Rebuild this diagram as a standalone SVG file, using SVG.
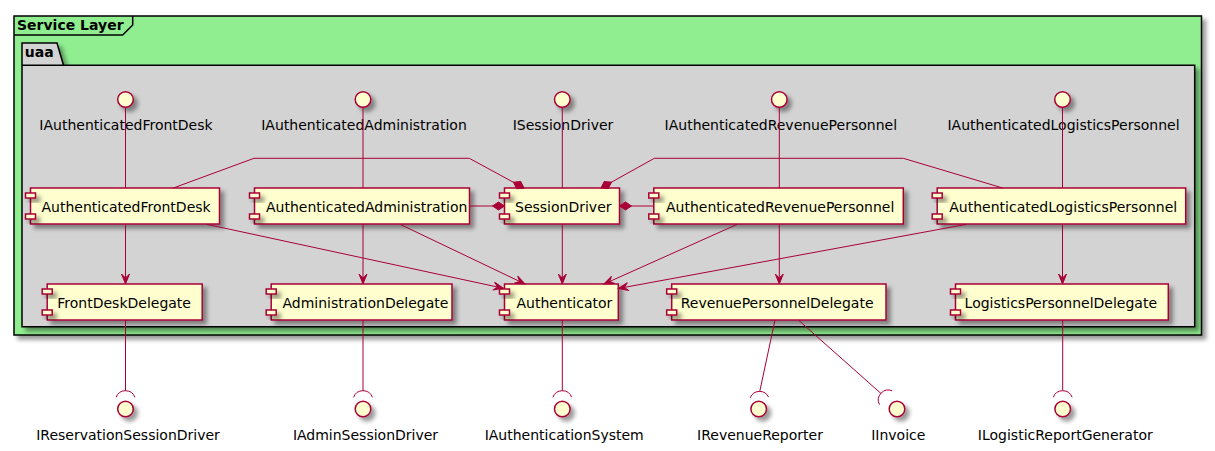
<svg xmlns="http://www.w3.org/2000/svg" width="1215" height="451" viewBox="0 0 1215 451">
<defs>
<filter id="sh" x="-1" y="-1" width="300%" height="300%">
<feGaussianBlur in="SourceAlpha" result="b" stdDeviation="2"/>
<feColorMatrix in="b" result="b2" type="matrix" values="0 0 0 0 0 0 0 0 0 0 0 0 0 0 0 0 0 0 .4 0"/>
<feOffset in="b2" result="b3" dx="4" dy="4"/>
<feBlend in="SourceGraphic" in2="b3" mode="normal"/>
</filter>
<marker id="arr" viewBox="-11 -5 12 10" refX="0" refY="0" markerWidth="12" markerHeight="10" orient="auto" markerUnits="userSpaceOnUse">
<path d="M0,0 L-10,-4 L-6,0 L-10,4 Z" fill="#A80036" stroke="#A80036" stroke-width="1"/>
</marker>
<marker id="dia" viewBox="-13 -5 14 10" refX="0" refY="0" markerWidth="14" markerHeight="10" orient="auto" markerUnits="userSpaceOnUse">
<path d="M0,0 L-6,-4 L-12,0 L-6,4 Z" fill="#A80036" stroke="#A80036" stroke-width="1"/>
</marker>
</defs>
<style>
text{font-family:"DejaVu Sans","Liberation Sans",sans-serif;font-size:14px;fill:#000}
.b{font-weight:bold}
.m{text-anchor:middle}
.box{fill:#FEFECE;stroke:#A80036;stroke-width:1.5;filter:url(#sh)}
.ifc{fill:#FEFECE;stroke:#A80036;stroke-width:1.5;filter:url(#sh)}
.cl{stroke:#000;stroke-width:1.5}
.c{fill:none;stroke:#A80036;stroke-width:1}
.a{marker-end:url(#arr)}
.d{marker-end:url(#dia)}
</style>
<g id="ServiceLayer">
<rect class="cl" x="14" y="16" width="1187.5" height="319" fill="#90EE90" filter="url(#sh)"/>
<path class="cl" d="M14,35 L122.7,35 L132.7,25 L132.7,16" fill="none"/>
<text class="b" x="17" y="30">Service Layer</text>
</g>
<g id="uaa">
<polygon class="cl" points="22,43 57,43 63.5,65.3 1194.7,65.3 1194.7,326.7 22,326.7" fill="#D3D3D3" filter="url(#sh)"/>
<line class="cl" x1="22" y1="65.3" x2="63.5" y2="65.3"/>
<text class="b" x="24.8" y="57.3">uaa</text>
</g>
<g id="IAuthenticatedFrontDesk"><circle class="ifc" cx="125.5" cy="99.5" r="7.8"/><text class="m" x="126" y="129.5">IAuthenticatedFrontDesk</text></g>
<g id="IAuthenticatedAdministration"><circle class="ifc" cx="363" cy="99.5" r="7.8"/><text class="m" x="364" y="129.5">IAuthenticatedAdministration</text></g>
<g id="ISessionDriver"><circle class="ifc" cx="562.3" cy="99.5" r="7.8"/><text class="m" x="563" y="129.5">ISessionDriver</text></g>
<g id="IAuthenticatedRevenuePersonnel"><circle class="ifc" cx="779.3" cy="99.5" r="7.8"/><text class="m" x="780.8" y="129.5">IAuthenticatedRevenuePersonnel</text></g>
<g id="IAuthenticatedLogisticsPersonnel"><circle class="ifc" cx="1062.5" cy="99.5" r="7.8"/><text class="m" x="1063.5" y="129.5">IAuthenticatedLogisticsPersonnel</text></g>
<g id="AuthenticatedFrontDesk"><rect class="box" x="30.5" y="188" width="189" height="36"/><rect class="box" x="25.5" y="193" width="10" height="5"/><rect class="box" x="25.5" y="214" width="10" height="5"/><text x="41.5" y="211.5">AuthenticatedFrontDesk</text></g>
<g id="AuthenticatedAdministration"><rect class="box" x="254.5" y="188" width="215" height="36"/><rect class="box" x="249.5" y="193" width="10" height="5"/><rect class="box" x="249.5" y="214" width="10" height="5"/><text x="266" y="211.5">AuthenticatedAdministration</text></g>
<g id="SessionDriver"><rect class="box" x="504.5" y="188" width="115" height="36"/><rect class="box" x="499.5" y="193" width="10" height="5"/><rect class="box" x="499.5" y="214" width="10" height="5"/><text x="515" y="211.5">SessionDriver</text></g>
<g id="AuthenticatedRevenuePersonnel"><rect class="box" x="653.8" y="188" width="249.5" height="36"/><rect class="box" x="648.8" y="193" width="10" height="5"/><rect class="box" x="648.8" y="214" width="10" height="5"/><text x="666" y="211.5">AuthenticatedRevenuePersonnel</text></g>
<g id="AuthenticatedLogisticsPersonnel"><rect class="box" x="937.2" y="188" width="248.5" height="36"/><rect class="box" x="932.2" y="193" width="10" height="5"/><rect class="box" x="932.2" y="214" width="10" height="5"/><text x="949.3" y="211.5">AuthenticatedLogisticsPersonnel</text></g>
<g id="FrontDeskDelegate"><rect class="box" x="47.2" y="284" width="155" height="36"/><rect class="box" x="42.2" y="289" width="10" height="5"/><rect class="box" x="42.2" y="310" width="10" height="5"/><text x="57.3" y="307.5">FrontDeskDelegate</text></g>
<g id="AdministrationDelegate"><rect class="box" x="271.2" y="284" width="180.8" height="36"/><rect class="box" x="266.2" y="289" width="10" height="5"/><rect class="box" x="266.2" y="310" width="10" height="5"/><text x="282.5" y="307.5">AdministrationDelegate</text></g>
<g id="Authenticator"><rect class="box" x="504.5" y="284" width="113.8" height="36"/><rect class="box" x="499.5" y="289" width="10" height="5"/><rect class="box" x="499.5" y="310" width="10" height="5"/><text x="516.5" y="307.5">Authenticator</text></g>
<g id="RevenuePersonnelDelegate"><rect class="box" x="671.7" y="284" width="214.3" height="36"/><rect class="box" x="666.7" y="289" width="10" height="5"/><rect class="box" x="666.7" y="310" width="10" height="5"/><text x="680.7" y="307.5">RevenuePersonnelDelegate</text></g>
<g id="LogisticsPersonnelDelegate"><rect class="box" x="955.5" y="284" width="212.8" height="36"/><rect class="box" x="950.5" y="289" width="10" height="5"/><rect class="box" x="950.5" y="310" width="10" height="5"/><text x="964.6" y="307.5">LogisticsPersonnelDelegate</text></g>
<g id="IReservationSessionDriver"><circle class="ifc" cx="125.5" cy="409" r="7.8"/><text class="m" x="128" y="439.5">IReservationSessionDriver</text></g>
<g id="IAdminSessionDriver"><circle class="ifc" cx="363" cy="409" r="7.8"/><text class="m" x="365.5" y="439.5">IAdminSessionDriver</text></g>
<g id="IAuthenticationSystem"><circle class="ifc" cx="562.3" cy="409" r="7.8"/><text class="m" x="564.2" y="439.5">IAuthenticationSystem</text></g>
<g id="IRevenueReporter"><circle class="ifc" cx="758.7" cy="409" r="7.8"/><text class="m" x="760" y="439.5">IRevenueReporter</text></g>
<g id="IInvoice"><circle class="ifc" cx="897" cy="409" r="7.8"/><text class="m" x="898.3" y="439.5">IInvoice</text></g>
<g id="ILogisticReportGenerator"><circle class="ifc" cx="1062.7" cy="409" r="7.8"/><text class="m" x="1065.3" y="439.5">ILogisticReportGenerator</text></g>
<g id="connectors">
<path class="c" d="M125.5,107.5 L125.5,188"/>
<path class="c" d="M363,107.5 L363,188"/>
<path class="c" d="M562.3,107.5 L562.3,188"/>
<path class="c" d="M779.3,107.5 L779.3,188"/>
<path class="c" d="M1062.5,107.5 L1062.5,188"/>
<path class="c a" d="M125.5,224 L125.5,284"/>
<path class="c a" d="M363,224 L363,284"/>
<path class="c a" d="M562.3,224 L562.3,284"/>
<path class="c a" d="M779.3,224 L779.3,284"/>
<path class="c a" d="M1062.5,224 L1062.5,284"/>
<path class="c a" d="M206.7,224.3 L503.5,288.3"/>
<path class="c a" d="M400,224.3 L525,284"/>
<path class="c a" d="M737.3,224.3 L604,284"/>
<path class="c a" d="M966.7,224.3 L618.3,288.5"/>
<path class="c d" d="M469.5,206 L504.5,206"/>
<path class="c d" d="M653.8,206 L619.5,206"/>
<path class="c d" d="M173.3,188 L254,158.3 L469.3,158.3 L524,188"/>
<path class="c d" d="M1002.7,188 L903.3,158.3 L654.3,158.3 L601,188"/>
<path class="c" d="M125.5,320 L125.5,390.7 M116.1,397.3 A10,10 0 0 1 134.9,397.3"/>
<path class="c" d="M363,320 L363,390.7 M353.6,397.3 A10,10 0 0 1 372.4,397.3"/>
<path class="c" d="M562.3,320 L562.3,390.7 M552.9,397.3 A10,10 0 0 1 571.7,397.3"/>
<path class="c" d="M775,320 L759.8,391.2 M750.2,397.8 A10,10 0 0 1 768.6,397.2"/>
<path class="c" d="M798.3,320 L881,393.5 M879.5,404.7 A10,10 0 0 1 892.2,390.8"/>
<path class="c" d="M1062.7,320 L1062.7,390.7 M1053.3,397.3 A10,10 0 0 1 1072.1,397.3"/>
</g>
</svg>
